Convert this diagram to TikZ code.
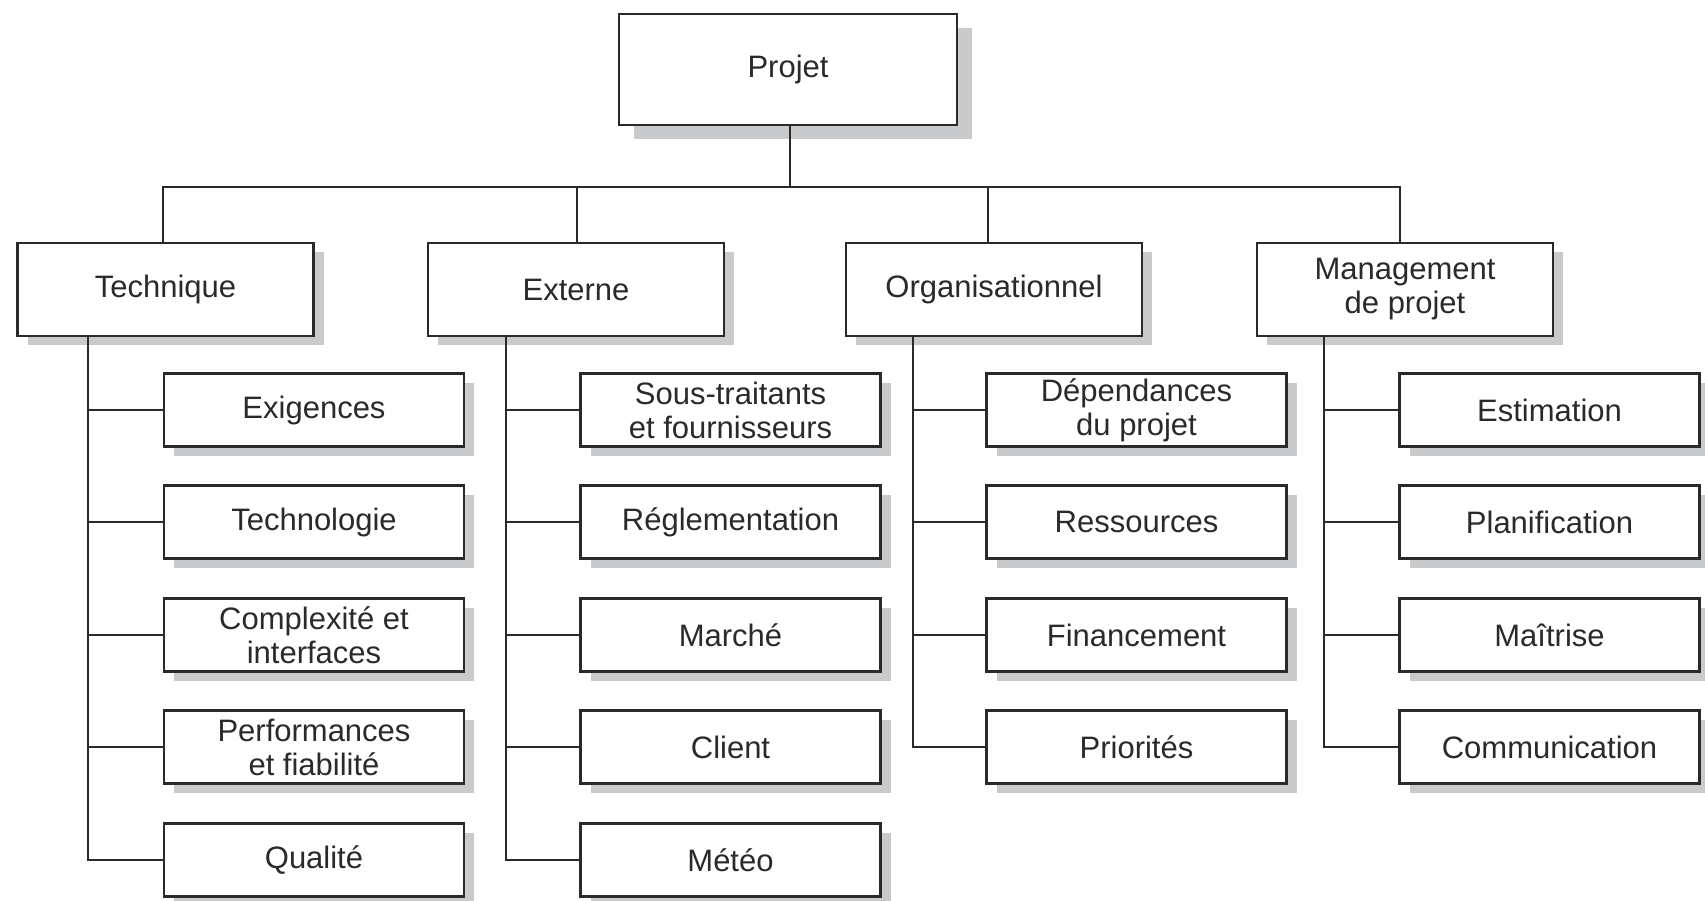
\documentclass[tikz,border=0pt]{standalone}
\usepackage{fontspec}
\setmainfont{Liberation Sans}
\usetikzlibrary{shadows}
\definecolor{ink}{HTML}{2A2A2A}
\definecolor{shade}{HTML}{C9CACC}

\begin{document}
\begin{tikzpicture}[x=1pt,y=-1pt,
  box/.style={draw=ink, line width=2.8pt, fill=white, text=ink, align=center,
    inner sep=0pt, font=\fontsize{31}{34}\selectfont},
  rootbox/.style={box, minimum width=338pt, minimum height=111pt,
    drop shadow={shadow xshift=15pt, shadow yshift=-14pt, fill=shade, opacity=1}},
  topbox/.style={box, minimum width=296pt, minimum height=93pt,
    drop shadow={shadow xshift=10pt, shadow yshift=-9pt, fill=shade, opacity=1}},
  leafbox/.style={box, minimum width=300pt, minimum height=73pt,
    drop shadow={shadow xshift=10pt, shadow yshift=-9pt, fill=shade, opacity=1}},
  link/.style={draw=ink, line width=2.4pt}
]
\useasboundingbox (0,0) rectangle (1705,900);

% root and first level
\node[rootbox] (proj) at (788,69.5) {Projet};
\node[topbox] (tech) at (165.5,289.5) {Technique};
\node[topbox] (ext)  at (576,289.5) {Externe};
\node[topbox] (org)  at (994,289.5) {Organisationnel};
\node[topbox] (mgt)  at (1405,289.5) {Management\\de projet};

% Technique branch
\node[leafbox] (t1) at (314,410) {Exigences};
\node[leafbox] (t2) at (314,522) {Technologie};
\node[leafbox] (t3) at (314,635) {Complexité et\\interfaces};
\node[leafbox] (t4) at (314,747) {Performances\\et fiabilité};
\node[leafbox] (t5) at (314,860) {Qualité};

% Externe branch
\node[leafbox] (e1) at (730.5,410) {Sous-traitants\\et fournisseurs};
\node[leafbox] (e2) at (730.5,522) {Réglementation};
\node[leafbox] (e3) at (730.5,635) {Marché};
\node[leafbox] (e4) at (730.5,747) {Client};
\node[leafbox] (e5) at (730.5,860) {Météo};

% Organisationnel branch
\node[leafbox] (o1) at (1136.5,410) {Dépendances\\du projet};
\node[leafbox] (o2) at (1136.5,522) {Ressources};
\node[leafbox] (o3) at (1136.5,635) {Financement};
\node[leafbox] (o4) at (1136.5,747) {Priorités};

% Management de projet branch
\node[leafbox] (m1) at (1549.5,410) {Estimation};
\node[leafbox] (m2) at (1549.5,522) {Planification};
\node[leafbox] (m3) at (1549.5,635) {Maîtrise};
\node[leafbox] (m4) at (1549.5,747) {Communication};

% horizontal bus under the root and the drops to each first-level box
\coordinate (bus) at (0,187);
\coordinate (sp) at (790,0);
\coordinate (st) at (163,0);
\coordinate (se) at (577,0);
\coordinate (so) at (988,0);
\coordinate (sm) at (1400,0);
\draw[link] (sp |- proj.south) -- (sp |- bus);
\draw[link] (st |- tech.north) -- (st |- bus) -- (sm |- bus) -- (sm |- mgt.north);
\draw[link] (se |- ext.north) -- (se |- bus);
\draw[link] (so |- org.north) -- (so |- bus);

% vertical trunks
\coordinate (tt) at (88,337);
\coordinate (et) at (506,337);
\coordinate (ot) at (913,337);
\coordinate (mt) at (1324,337);

\draw[link] (tt) |- (t5.west);
\foreach \n in {t1,t2,t3,t4} \draw[link] (tt |- \n.west) -- (\n.west);
\draw[link] (et) |- (e5.west);
\foreach \n in {e1,e2,e3,e4} \draw[link] (et |- \n.west) -- (\n.west);
\draw[link] (ot) |- (o4.west);
\foreach \n in {o1,o2,o3} \draw[link] (ot |- \n.west) -- (\n.west);
\draw[link] (mt) |- (m4.west);
\foreach \n in {m1,m2,m3} \draw[link] (mt |- \n.west) -- (\n.west);
\end{tikzpicture}
\end{document}
